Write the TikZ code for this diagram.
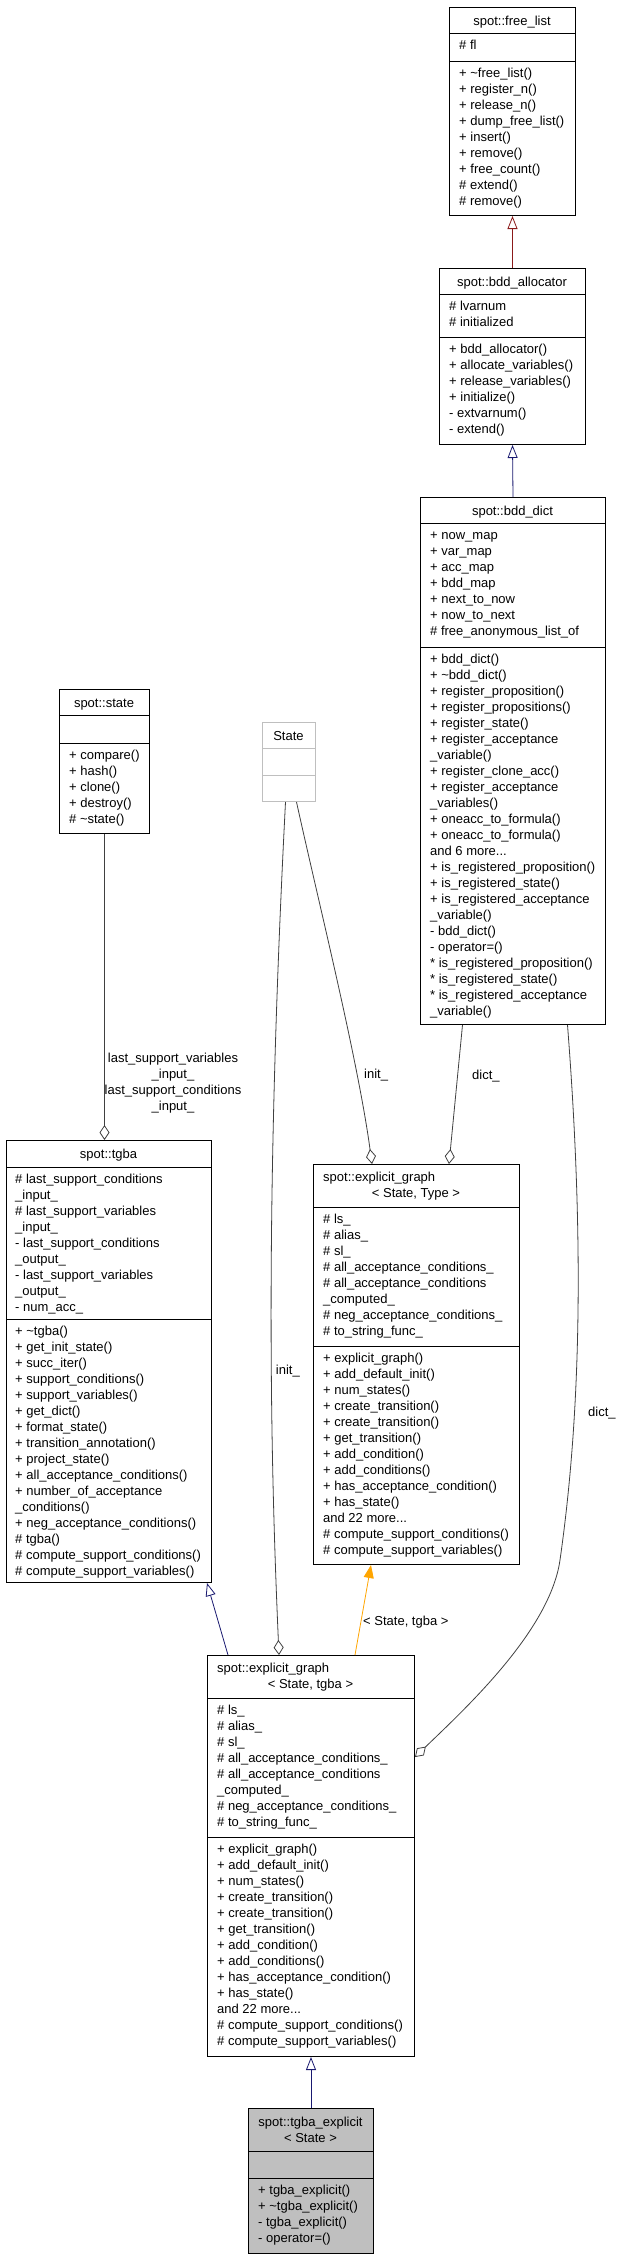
\documentclass[tikz,border=0pt]{standalone}
\usepackage{fontspec}
\setmainfont{Liberation Sans}
\usetikzlibrary{arrows.meta,calc}
\newcommand\mf{\fontsize{13}{16}\selectfont}
\newcommand\tl{\textasciitilde}
\definecolor{dxred}{HTML}{8B1A1A}
\definecolor{dxblue}{HTML}{191970}
\definecolor{dxorange}{HTML}{FFA500}
\definecolor{dxgray}{HTML}{404040}
\definecolor{dxlgray}{HTML}{BFBFBF}
\newcommand\csep[2]{\draw[line width=1pt,draw=black] ([yshift=-#2pt]#1.north west) -- ([yshift=-#2pt]#1.north east);}
\newcommand\gsep[2]{\draw[line width=1pt,draw=dxlgray] ([yshift=-#2pt]#1.north west) -- ([yshift=-#2pt]#1.north east);}
\begin{document}
\begin{tikzpicture}[x=1pt,y=-1pt,
  cls/.style={draw=black, line width=1pt, inner sep=0pt, anchor=north west},
  mem/.style={anchor=north west, align=left, inner sep=0pt, font=\mf},
  ttl/.style={anchor=base, inner sep=0pt, font=\mf},
  ttlw/.style={anchor=base west, inner sep=0pt, font=\mf},
  lbl/.style={inner sep=0pt, font=\mf},
  inhred/.style={draw=dxred, line width=0.8pt, -{Triangle[open, width=10pt, length=13pt]}},
  inhblue/.style={draw=dxblue, line width=0.8pt, -{Triangle[open, width=10pt, length=13pt]}},
  tmpl/.style={draw=dxorange, line width=0.8pt, -{Triangle[width=10pt, length=13pt]}},
  usage/.style={draw=dxgray, line width=0.8pt, {Diamond[open, width=10pt, length=15pt]}-}]
\useasboundingbox (0,0) rectangle (619,2259);
\fill[white] (0,0) rectangle (619,2259);

% spot::free_list
\node[cls, minimum width=126pt, minimum height=208pt] (fl) at (449,7) {};
\node[ttl] at (512,25) {spot::free\_list};
\csep{fl}{26}\csep{fl}{54}
\node[mem] at (459,38.3) {\strut\# fl};
\node[mem] at (459,66.3) {\strut+ \tl free\_list()\\+ register\_n()\\+ release\_n()\\+ dump\_free\_list()\\+ insert()\\+ remove()\\+ free\_count()\\\# extend()\\\# remove()};

% spot::bdd_allocator
\node[cls, minimum width=146pt, minimum height=176pt] (ba) at (439,268) {};
\node[ttl] at (512,286) {spot::bdd\_allocator};
\csep{ba}{26}\csep{ba}{69}
\node[mem] at (449,299.3) {\strut\# lvarnum\\\# initialized};
\node[mem] at (449,342.3) {\strut+ bdd\_allocator()\\+ allocate\_variables()\\+ release\_variables()\\+ initialize()\\- extvarnum()\\- extend()};

% spot::bdd_dict
\node[cls, minimum width=185pt, minimum height=527pt] (bd) at (420,497) {};
\node[ttl] at (512.5,515) {spot::bdd\_dict};
\csep{bd}{26}\csep{bd}{150}
\node[mem] at (430,528.3) {\strut+ now\_map\\+ var\_map\\+ acc\_map\\+ bdd\_map\\+ next\_to\_now\\+ now\_to\_next\\\# free\_anonymous\_list\_of};
\node[mem] at (430,652.3) {\strut+ bdd\_dict()\\+ \tl bdd\_dict()\\+ register\_proposition()\\+ register\_propositions()\\+ register\_state()\\+ register\_acceptance\\\_variable()\\+ register\_clone\_acc()\\+ register\_acceptance\\\_variables()\\+ oneacc\_to\_formula()\\+ oneacc\_to\_formula()\\and 6 more...\\+ is\_registered\_proposition()\\+ is\_registered\_state()\\+ is\_registered\_acceptance\\\_variable()\\- bdd\_dict()\\- operator=()\\{}* is\_registered\_proposition()\\{}* is\_registered\_state()\\{}* is\_registered\_acceptance\\\_variable()};

% spot::state
\node[cls, minimum width=90pt, minimum height=144pt] (st) at (59,689) {};
\node[ttl] at (104,707) {spot::state};
\csep{st}{26}\csep{st}{54}
\node[mem] at (69,748.3) {\strut+ compare()\\+ hash()\\+ clone()\\+ destroy()\\\# \tl state()};

% State
\node[cls, draw=dxlgray, minimum width=53pt, minimum height=79pt] (S) at (262,722) {};
\node[ttl] at (288.5,740) {State};
\gsep{S}{26}\gsep{S}{53}

% spot::tgba
\node[cls, minimum width=205pt, minimum height=442pt] (tg) at (6,1140) {};
\node[ttl] at (108.5,1158) {spot::tgba};
\csep{tg}{27}\csep{tg}{179}
\node[mem] at (15,1172.3) {\strut\# last\_support\_conditions\\\_input\_\\\# last\_support\_variables\\\_input\_\\- last\_support\_conditions\\\_output\_\\- last\_support\_variables\\\_output\_\\- num\_acc\_};
\node[mem] at (15,1324.3) {\strut+ \tl tgba()\\+ get\_init\_state()\\+ succ\_iter()\\+ support\_conditions()\\+ support\_variables()\\+ get\_dict()\\+ format\_state()\\+ transition\_annotation()\\+ project\_state()\\+ all\_acceptance\_conditions()\\+ number\_of\_acceptance\\\_conditions()\\+ neg\_acceptance\_conditions()\\\# tgba()\\\# compute\_support\_conditions()\\\# compute\_support\_variables()};

% spot::explicit_graph< State, Type >
\node[cls, minimum width=206pt, minimum height=400pt] (eg1) at (313,1164) {};
\node[ttlw] at (323,1181) {spot::explicit\_graph};
\node[ttl] at (416,1197) {< State, Type >};
\csep{eg1}{43}\csep{eg1}{182}
\node[mem] at (323,1212.3) {\strut\# ls\_\\\# alias\_\\\# sl\_\\\# all\_acceptance\_conditions\_\\\# all\_acceptance\_conditions\\\_computed\_\\\# neg\_acceptance\_conditions\_\\\# to\_string\_func\_};
\node[mem] at (323,1351.3) {\strut+ explicit\_graph()\\+ add\_default\_init()\\+ num\_states()\\+ create\_transition()\\+ create\_transition()\\+ get\_transition()\\+ add\_condition()\\+ add\_conditions()\\+ has\_acceptance\_condition()\\+ has\_state()\\and 22 more...\\\# compute\_support\_conditions()\\\# compute\_support\_variables()};

% spot::explicit_graph< State, tgba >
\node[cls, minimum width=207pt, minimum height=401pt] (eg2) at (207,1655) {};
\node[ttlw] at (217,1672) {spot::explicit\_graph};
\node[ttl] at (310.5,1688) {< State, tgba >};
\csep{eg2}{43}\csep{eg2}{182}
\node[mem] at (217,1703.3) {\strut\# ls\_\\\# alias\_\\\# sl\_\\\# all\_acceptance\_conditions\_\\\# all\_acceptance\_conditions\\\_computed\_\\\# neg\_acceptance\_conditions\_\\\# to\_string\_func\_};
\node[mem] at (217,1842.3) {\strut+ explicit\_graph()\\+ add\_default\_init()\\+ num\_states()\\+ create\_transition()\\+ create\_transition()\\+ get\_transition()\\+ add\_condition()\\+ add\_conditions()\\+ has\_acceptance\_condition()\\+ has\_state()\\and 22 more...\\\# compute\_support\_conditions()\\\# compute\_support\_variables()};

% spot::tgba_explicit< State >
\node[cls, fill=dxlgray, minimum width=125pt, minimum height=145pt] (te) at (248,2108) {};
\node[ttl] at (310.5,2126) {spot::tgba\_explicit};
\node[ttl] at (310.5,2142) {< State >};
\csep{te}{43}\csep{te}{70}
\node[mem] at (258,2183.3) {\strut+ tgba\_explicit()\\+ \tl tgba\_explicit()\\- tgba\_explicit()\\- operator=()};

% connectors
\draw[inhred] (ba.north) -- (fl.south);
\draw[inhblue] (bd.north) -- (ba.south);
\draw[usage] (tg.north -| st.south) -- (st.south);
\node[lbl, align=center, anchor=north] (l1) at (173,1050.8) {\strut last\_support\_variables\\\_input\_\\last\_support\_conditions\\\_input\_};
\draw[usage] ([xshift=59pt]eg1.north west) .. controls (358,1060) and (318,900) .. ([xshift=7.5pt]S.south);
\node[lbl, anchor=base west] (l2) at (364,1078) {init\_};
\draw[usage] ([xshift=72pt]eg2.north west) .. controls (270,1450) and (265,1200) .. ([xshift=-3.5pt]S.south);
\node[lbl, anchor=base east] (l3) at (300,1374) {init\_};
\draw[usage] ([xshift=136pt]eg1.north west) -- ([xshift=-50.5pt]bd.south);
\node[lbl, anchor=base west] (l4) at (472,1079) {dict\_};
\draw[usage] ([yshift=-102pt]eg2.north east) .. controls (467,1707) and (550,1630) .. (560,1560) .. controls (580,1420) and (585,1250) .. ([xshift=54.5pt]bd.south);
\node[lbl, anchor=base west] (l5) at (588,1416) {dict\_};
\draw[tmpl] ([xshift=148pt]eg2.north west) -- ([xshift=58pt]eg1.south west);
\node[lbl, anchor=base west] (l6) at (363,1625) {< State, tgba >};
\draw[inhblue] ([xshift=21pt]eg2.north west) -- ([xshift=-5pt]tg.south east);
\draw[inhblue] (te.north) -- (eg2.south);
\end{tikzpicture}
\end{document}
